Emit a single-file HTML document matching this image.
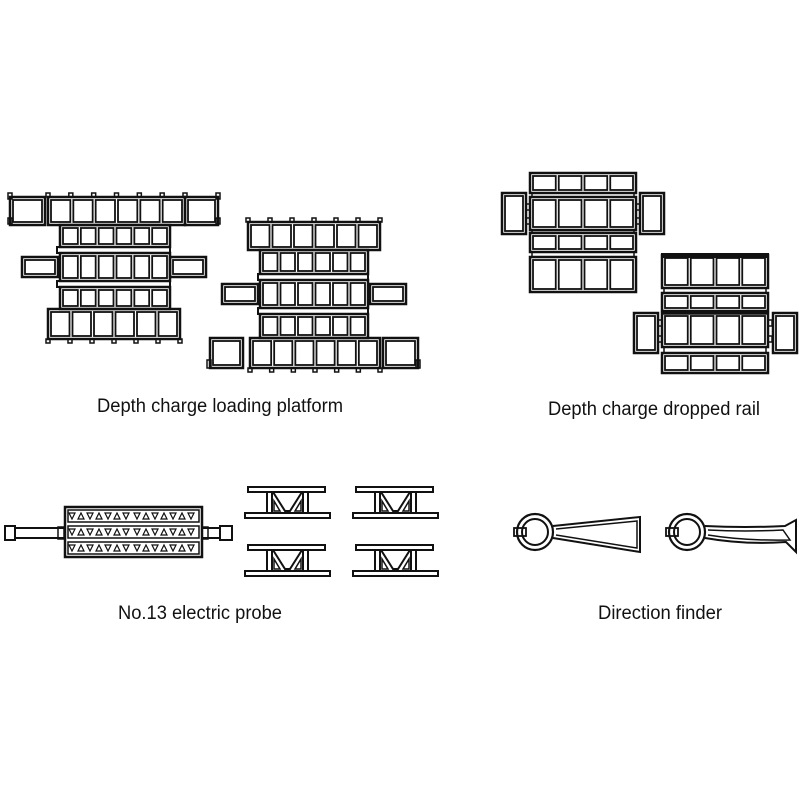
<!DOCTYPE html>
<html><head><meta charset="utf-8">
<style>
html,body{margin:0;padding:0;background:#fff;}
svg{display:block;}
text{font-family:"Liberation Sans",Arial,sans-serif;font-size:19px;fill:#111;}
</style></head>
<body>
<svg id="s" width="800" height="800" viewBox="0 0 800 800" xmlns="http://www.w3.org/2000/svg">
<rect width="800" height="800" fill="#fff"/>
<g id="g" fill="none" stroke="#111" stroke-width="2"></g>
<text x="97" y="412" textLength="246" lengthAdjust="spacingAndGlyphs">Depth charge loading platform</text>
<text x="548" y="415" textLength="212" lengthAdjust="spacingAndGlyphs">Depth charge dropped rail</text>
<text x="118" y="619" textLength="164" lengthAdjust="spacingAndGlyphs">No.13 electric probe</text>
<text x="598" y="619" textLength="124" lengthAdjust="spacingAndGlyphs">Direction finder</text>
</svg>
<script>
var g=document.getElementById('g'),ns='http://www.w3.org/2000/svg';
function el(t,a){var e=document.createElementNS(ns,t);for(var k in a)e.setAttribute(k,a[k]);g.appendChild(e);return e;}
function R(x,y,w,h,sw){el('rect',{x:x,y:y,width:w,height:h,'stroke-width':sw||2});}
function P(d,sw,f){el('path',{d:d,'stroke-width':sw||2,fill:f||'none'});}
function row(x,y,w,h,n,pad){pad=pad||3;R(x,y,w,h,2.5);var cw=(w-pad)/n;for(var i=0;i<n;i++)R(x+pad+i*cw,y+pad,cw-pad,h-2*pad,1.8);}
function teeth(x,w,y,n,up){var cw=w/n;for(var i=0;i<=n;i++){R(x+i*cw-2,up?y-4:y,4,4,1.5);}}
// Platform 1
row(48,197,137,28,6);teeth(48,137,197,6,true);
row(10,197,35,28,1);R(8,193,4,6,1.5);R(8,218,4,6,1.5);
row(185,197,33,28,1);R(216,193,4,6,1.5);R(216,218,4,6,1.5);
row(60,225,110,22,6);
R(57,247,113,6,2);
row(60,253,110,28,6);row(22,257,36,20,1);row(170,257,36,20,1);
R(57,281,113,6,2);
row(60,287,110,22,6);
row(48,309,132,30,6);teeth(48,132,339,6,false);
// Platform 2
row(248,222,132,28,6);teeth(248,132,222,6,true);
row(260,250,108,24,6);
R(258,274,110,6,2);
row(260,280,108,28,6);row(222,284,36,20,1);row(370,284,36,20,1);
R(258,308,110,6,2);
row(260,314,108,24,6);
row(250,338,130,30,6);teeth(250,130,368,6,false);
row(210,338,33,30,1);row(383,338,35,30,1);R(207,360,4,8,1.5);R(416,360,4,8,1.5);
// Dropped rail 1
row(530,173,106,20,4);
row(530,197,106,33,4);row(502,193,24,41,1);row(640,193,24,41,1);
R(526,204,4,6,1.5);R(526,218,4,6,1.5);R(636,204,4,6,1.5);R(636,218,4,6,1.5);
R(532,193,102,4,1.5);R(532,230,102,3,1.5);
row(530,233,106,19,4);R(532,252,102,5,1.5);
row(530,257,106,35,4);
// Dropped rail 2
row(662,255,106,33,4);R(662,254,106,3,2);
R(664,288,102,5,1.5);
row(662,293,106,18,4);
R(664,311,102,3,1.5);
row(662,313,106,34,4);row(634,313,24,40,1);row(773,313,24,40,1);
R(658,320,4,6,1.5);R(658,336,4,6,1.5);R(768,320,4,6,1.5);R(768,336,4,6,1.5);
R(664,347,102,6,1.5);
row(662,353,106,20,4);
// Electric probe
R(5,526,10,14,2);R(15,528,50,10,2);R(58,527,6,12,1.5);
R(202,528,18,10,2);R(202,527,6,12,1.5);R(220,526,12,14,2);
R(65,507,137,50,2.5);
for(var r=0;r<3;r++){var y=510+r*16;R(68,y,131,12,1.5);
 for(var h=0;h<2;h++){var x0=69+h*65;for(var i=0;i<7;i++){var x=x0+i*9;
  if(i%2==0)P('M'+x+' '+(y+3)+'h6l-3 6z',1.2);else P('M'+x+' '+(y+9)+'h6l-3 -6z',1.2);}}
}
// I-beams
function beam(x,y){
 R(x+3,y,77,5,2);R(x,y+26,85,5,2);
 R(x+22,y+5,5,21,2);R(x+58,y+5,5,21,2);
 P('M'+(x+28)+' '+(y+5)+'L'+(x+40)+' '+(y+24)+'H'+(x+45)+'L'+(x+57)+' '+(y+5),2);
 P('M'+(x+29)+' '+(y+24)+'V'+(y+14)+'L'+(x+35)+' '+(y+24)+'z',1.5);
 P('M'+(x+56)+' '+(y+24)+'V'+(y+14)+'L'+(x+50)+' '+(y+24)+'z',1.5);
}
beam(245,487);beam(353,487);beam(245,545);beam(353,545);
// Direction finders
function ring(cx,cy){
 el('circle',{cx:cx,cy:cy,r:18,'stroke-width':2.2});el('circle',{cx:cx,cy:cy,r:13,'stroke-width':2});
 R(cx-21,cy-4,12,8,1.8);
}
ring(535,532);
P('M553 526L640 517V552L553 538',2);P('M556 529L637 521V548L556 535',1.5);
ring(687,532);
P('M705 526Q745 528 785 526L796 520V552L786 542Q745 545 705 538',2);
P('M708 530Q745 532 783 530L790 540Q745 541 708 535',1.5);
</script>
</body></html>
